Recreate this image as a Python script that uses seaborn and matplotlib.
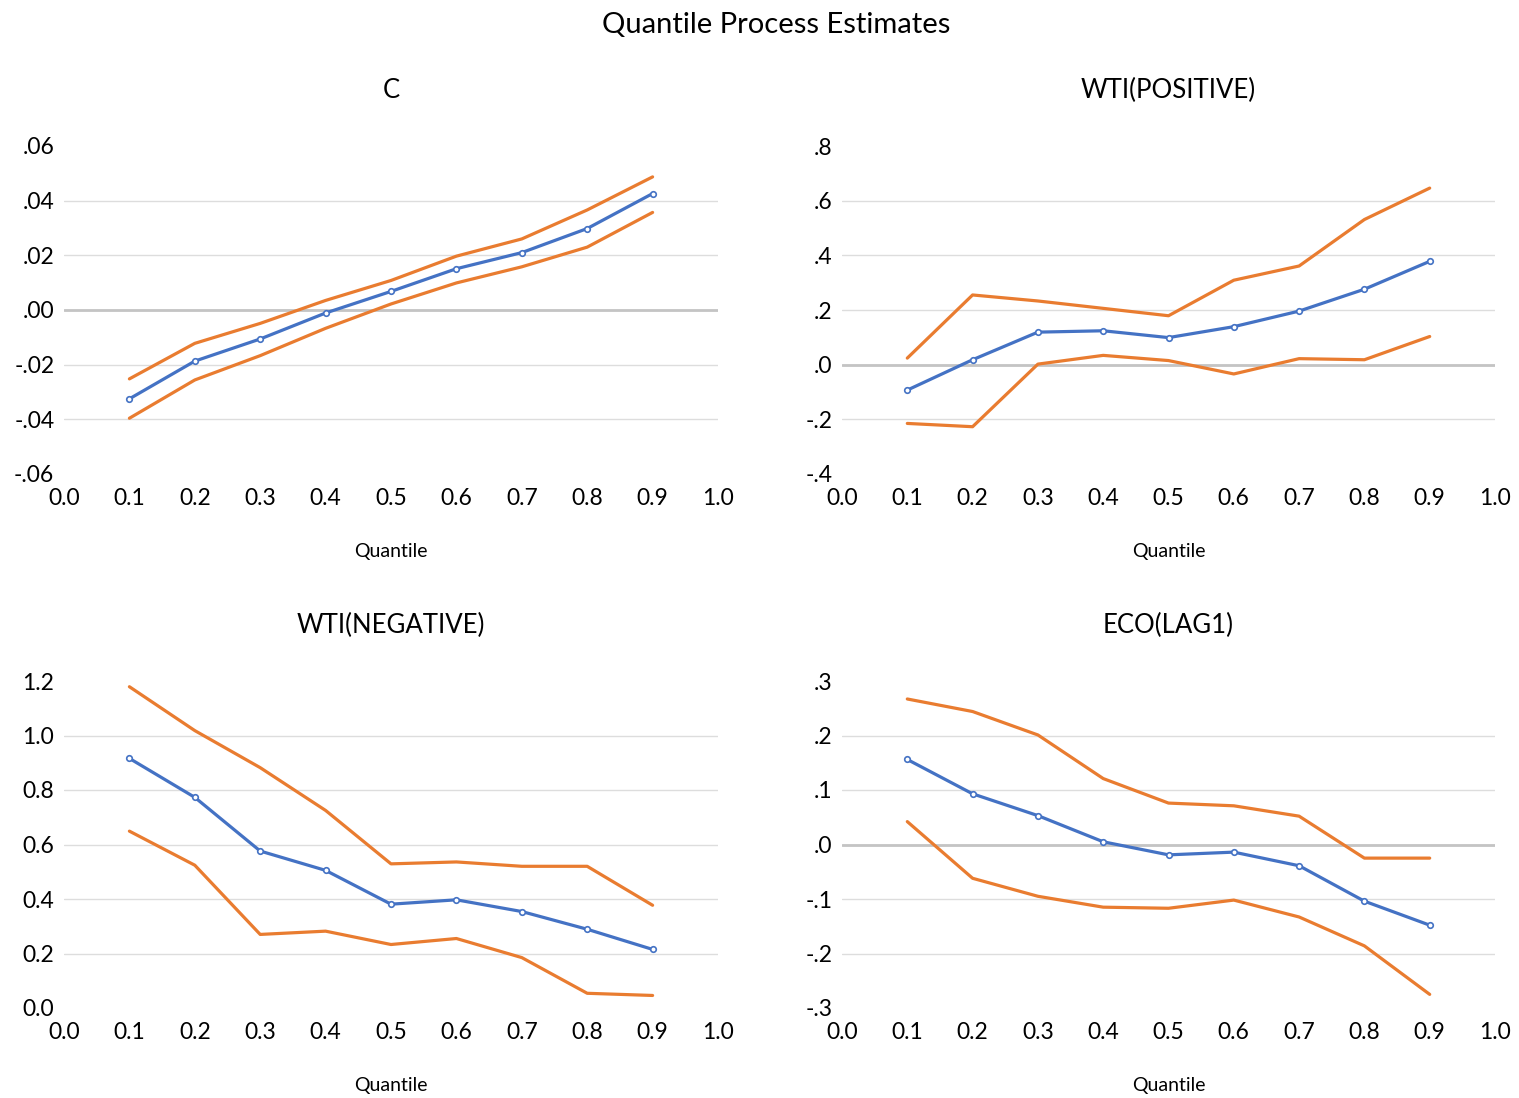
import numpy as np
import pandas as pd
import matplotlib.pyplot as plt
import seaborn as sns
from matplotlib.ticker import FuncFormatter

# === DATA ===
quantiles = [0.1, 0.2, 0.3, 0.4, 0.5, 0.6, 0.7, 0.8, 0.9]

c_est = [-0.0325, -0.0187, -0.0106, -0.0011, 0.0068, 0.0151, 0.0210, 0.0298, 0.0426]
c_upper = [-0.0252, -0.0122, -0.0049, 0.0035, 0.0108, 0.0197, 0.0260, 0.0366, 0.0487]
c_lower = [-0.0396, -0.0256, -0.0167, -0.0067, 0.0022, 0.0099, 0.0158, 0.0230, 0.0357]

pos_est = [-0.093, 0.018, 0.119, 0.124, 0.099, 0.139, 0.196, 0.276, 0.378]
pos_upper = [0.024, 0.255, 0.233, 0.206, 0.179, 0.309, 0.361, 0.531, 0.646]
pos_lower = [-0.215, -0.227, 0.002, 0.034, 0.015, -0.034, 0.022, 0.018, 0.103]

neg_est = [0.916, 0.773, 0.576, 0.505, 0.381, 0.397, 0.354, 0.289, 0.215]
neg_upper = [1.179, 1.018, 0.882, 0.725, 0.529, 0.536, 0.520, 0.520, 0.377]
neg_lower = [0.649, 0.524, 0.270, 0.282, 0.233, 0.255, 0.185, 0.054, 0.046]

eco_est = [0.156, 0.093, 0.053, 0.005, -0.019, -0.014, -0.039, -0.104, -0.148]
eco_upper = [0.267, 0.244, 0.201, 0.121, 0.076, 0.071, 0.052, -0.025, -0.025]
eco_lower = [0.042, -0.062, -0.095, -0.115, -0.117, -0.102, -0.133, -0.186, -0.275]

panels = [
    ("C", c_est, c_upper, c_lower, np.linspace(-0.06, 0.06, 7), 2, True),
    ("WTI(POSITIVE)", pos_est, pos_upper, pos_lower, np.linspace(-0.4, 0.8, 7), 1, True),
    ("WTI(NEGATIVE)", neg_est, neg_upper, neg_lower, np.linspace(0.0, 1.2, 7), 1, False),
    ("ECO(LAG1)", eco_est, eco_upper, eco_lower, np.linspace(-0.3, 0.3, 7), 1, True),
]

BLUE = "#4472C4"
ORANGE = "#E97C30"

# === STYLE ===
sns.set_theme(style="white")
plt.rcParams["font.family"] = ["Lato", "DejaVu Sans"]
plt.rcParams["text.color"] = "black"

W, H = 1519, 1098
fig = plt.figure(figsize=(W / 100, H / 100), dpi=100)

# axes boxes in pixels: (left, top, right, bottom)
boxes = [(64, 146, 718, 474), (842, 146, 1495, 474),
         (64, 681, 718, 1008), (842, 681, 1495, 1008)]


def make_fmt(decimals, strip_zero):
    def fmt(v, pos):
        s = f"{v:.{decimals}f}"
        if strip_zero:
            if s.startswith("-0."):
                s = "-" + s[2:]
            elif s.startswith("0."):
                s = s[1:]
        return s
    return fmt


for (title, est, upper, lower, yticks, dec, strip), (l, t, r, b) in zip(panels, boxes):
    ax = fig.add_axes([l / W, 1 - b / H, (r - l) / W, (b - t) / H])
    sns.lineplot(x=quantiles, y=upper, ax=ax, color=ORANGE, linewidth=2.3)
    sns.lineplot(x=quantiles, y=lower, ax=ax, color=ORANGE, linewidth=2.3)
    sns.lineplot(x=quantiles, y=est, ax=ax, color=BLUE, linewidth=2.3,
                 marker="o", markersize=4, markerfacecolor="white",
                 markeredgecolor=BLUE, markeredgewidth=1.2)

    ax.set_xlim(0, 1)
    ax.set_ylim(yticks[0], yticks[-1])
    ax.set_xticks(np.linspace(0, 1, 11))
    ax.set_xticklabels([f"{v:.1f}" for v in np.linspace(0, 1, 11)])
    ax.set_yticks(yticks)
    ax.yaxis.set_major_formatter(FuncFormatter(make_fmt(dec, strip)))
    ax.tick_params(axis="both", length=0, labelsize=16.5, colors="black")
    ax.tick_params(axis="x", pad=10)
    ax.tick_params(axis="y", pad=7)

    # inner gridlines only, darker zero line
    for yv in yticks[1:-1]:
        ax.axhline(yv, color="#DDDDDD", linewidth=1.0, zorder=0)
    if yticks[0] < 0 < yticks[-1]:
        ax.axhline(0, color="#C4C4C4", linewidth=2.0, zorder=0.5)

    for sp in ax.spines.values():
        sp.set_visible(False)
    ax.set_xlabel("")
    ax.set_ylabel("")

    cx = (l + r) / 2 / W
    fig.text(cx, 1 - (t - 56) / H, title, ha="center", va="center",
             fontsize=18.5, color="black")
    fig.text(cx, 1 - (b + 77) / H, "Quantile", ha="center", va="center",
             fontsize=14, color="black")

fig.text(776 / W, 1 - 25 / H, "Quantile Process Estimates", ha="center", va="center",
         fontsize=21, color="black")

fig.savefig("out.png", dpi=100)
